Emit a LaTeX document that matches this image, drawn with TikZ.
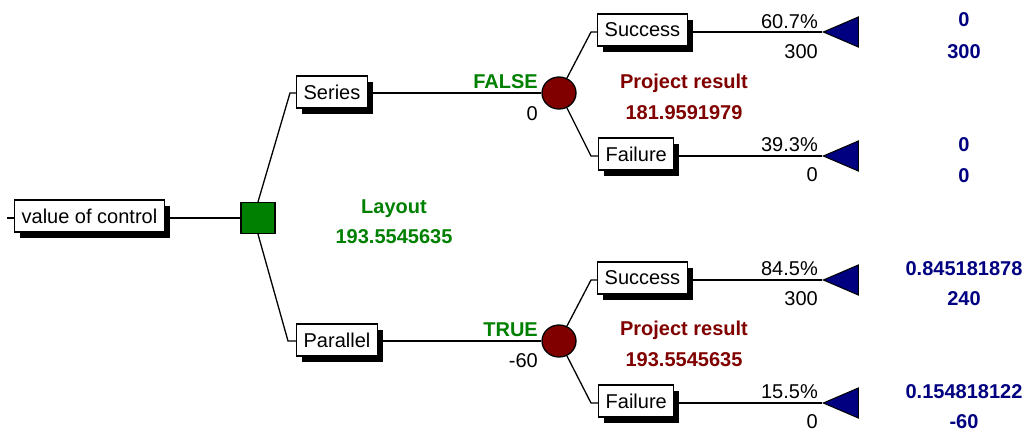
\documentclass[tikz,border=0pt]{standalone}
\usepackage{fontspec}
\setmainfont{Liberation Sans}
\usetikzlibrary{shapes.geometric,shadows,calc}
\definecolor{decgreen}{RGB}{0,128,0}
\definecolor{chancered}{RGB}{128,0,0}
\definecolor{endblue}{RGB}{0,0,128}

\begin{document}
\begin{tikzpicture}[x=1pt,y=-1pt,
  font=\fontsize{20}{24}\selectfont,
  wire/.style={draw=black, line width=1.3pt},
  branchbox/.style={draw=black, line width=1.3pt, fill=white, minimum height=32pt,
    inner xsep=7pt, inner ysep=0pt, anchor=west,
    drop shadow={shadow xshift=5.5pt, shadow yshift=-5.5pt, opacity=1, fill=black}},
  decision/.style={draw=black, line width=1.3pt, fill=decgreen, minimum width=34pt,
    minimum height=31pt, inner sep=0pt},
  chance/.style={ellipse, draw=black, line width=1.3pt, fill=chancered, minimum width=34pt,
    minimum height=32pt, inner sep=0pt},
  terminal/.style={isosceles triangle, shape border rotate=180, isosceles triangle stretches,
    draw=black, line width=1pt, fill=endblue, minimum height=35pt, minimum width=30pt,
    inner sep=0pt, anchor=apex},
  lbl/.style={inner sep=0pt},
  prob/.style={lbl, anchor=base east},
  greenlbl/.style={lbl, font=\fontsize{20}{24}\selectfont\bfseries, text=decgreen},
  redlbl/.style={lbl, font=\fontsize{20}{24}\selectfont\bfseries, text=chancered, anchor=base},
  bluelbl/.style={lbl, font=\fontsize{20}{24}\selectfont\bfseries, text=endblue, anchor=base}
]
\useasboundingbox (0,0) rectangle (1024,432);

% free end of the root stub
\coordinate (stub) at (7,218);

% nodes of the tree (boxes sit slightly above their branch lines)
\node[branchbox] (root) at (14,216) {value of control};
\node[decision] (dec) at (258,218) {};
\node[branchbox] (series) at (296,92) {Series};
\node[branchbox] (parallel) at (296,340) {Parallel};

\node[branchbox] (s1) at (597,30) {Success};
\node[branchbox] (f1) at (598,154) {Failure};
\node[branchbox] (s2) at (597,278) {Success};
\node[branchbox] (f2) at (598,401) {Failure};

\node[terminal] (t1) at (822,32) {};
\node[terminal] (t2) at (822,156) {};
\node[terminal] (t3) at (822,280) {};
\node[terminal] (t4) at (822,403) {};

\node[chance] (ch1) at (559,93) {};
\node[chance] (ch2) at (559,341) {};

% branch lines
\draw[wire] (stub) -- (root.west |- stub);
\draw[wire] (root.east |- dec) -- (dec.west);
\draw[wire] (dec.north) -- ($(series.west |- ch1)+(-6,0)$) -- (series.west |- ch1);
\draw[wire] (dec.south) -- ($(parallel.west |- ch2)+(-8,0)$) -- (parallel.west |- ch2);

\draw[wire] (series.east |- ch1) -- (ch1.west);
\draw[wire] (parallel.east |- ch2) -- (ch2.west);

\draw[wire] (ch1.62) -- ($(s1.west |- t1.apex)+(-6,0)$) -- (s1.west |- t1.apex);
\draw[wire] (ch1.-62) -- ($(f1.west |- t2.apex)+(-7,0)$) -- (f1.west |- t2.apex);
\draw[wire] (ch2.62) -- ($(s2.west |- t3.apex)+(-6,0)$) -- (s2.west |- t3.apex);
\draw[wire] (ch2.-62) -- ($(f2.west |- t4.apex)+(-7,0)$) -- (f2.west |- t4.apex);

\draw[wire] (s1.east |- t1.apex) -- (t1.apex);
\draw[wire] (f1.east |- t2.apex) -- (t2.apex);
\draw[wire] (s2.east |- t3.apex) -- (t3.apex);
\draw[wire] (f2.east |- t4.apex) -- (t4.apex);

% decision labels
\node[greenlbl, anchor=base east] (lfalse) at (538,88) {FALSE};
\node[prob] (vfalse) at (538,120) {0};
\node[greenlbl, anchor=base east] (ltrue) at (538,336) {TRUE};
\node[prob] (vtrue) at (538,367) {-60};
\node[greenlbl, anchor=base] (layout) at (394,213) {Layout};
\node[greenlbl, anchor=base] (layoutv) at (394,243) {193.5545635};

% chance labels
\node[redlbl] (pr1) at (684,88) {Project result};
\node[redlbl] (pr1v) at (684,119) {181.9591979};
\node[redlbl] (pr2) at (684,335) {Project result};
\node[redlbl] (pr2v) at (684,366) {193.5545635};

% probabilities and payoffs on the outcome branches
\node[prob] (p1) at (818,28) {60.7\%};
\node[prob] (v1) at (818,58) {300};
\node[prob] (p2) at (818,151) {39.3\%};
\node[prob] (v2) at (818,181) {0};
\node[prob] (p3) at (818,275) {84.5\%};
\node[prob] (v3) at (818,305) {300};
\node[prob] (p4) at (818,398) {15.5\%};
\node[prob] (v4) at (818,428) {0};

% end-node results
\node[bluelbl] (r1a) at (964,26) {0};
\node[bluelbl] (r1b) at (964,58) {300};
\node[bluelbl] (r2a) at (964,151) {0};
\node[bluelbl] (r2b) at (964,182) {0};
\node[bluelbl] (r3a) at (964,275) {0.845181878};
\node[bluelbl] (r3b) at (964,305) {240};
\node[bluelbl] (r4a) at (964,398) {0.154818122};
\node[bluelbl] (r4b) at (964,428) {-60};
\end{tikzpicture}
\end{document}
